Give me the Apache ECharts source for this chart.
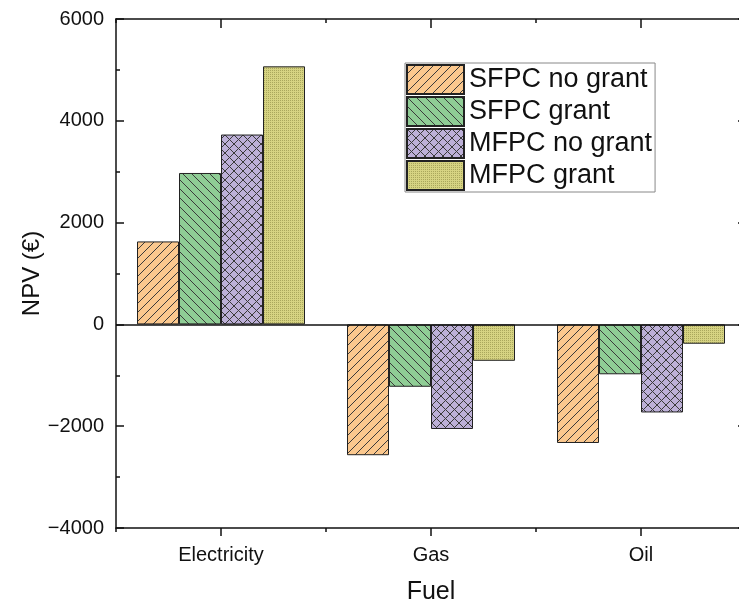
<!DOCTYPE html>
<html>
<head>
<meta charset="utf-8">
<script src="https://cdn.jsdelivr.net/npm/echarts@6/dist/echarts.min.js"></script>
<style>html,body{margin:0;padding:0;background:#fff;}#main{width:739px;height:607px;}</style>
</head>
<body>
<div id="main"></div>
<script>
const categories = ['Electricity', 'Gas', 'Oil'];
const seriesNames = ['SFPC no grant', 'SFPC grant', 'MFPC no grant', 'MFPC grant'];
const sfpcNoGrant = [1630, -2570, -2330];
const sfpcGrant = [2975, -1225, -980];
const mfpcNoGrant = [3730, -2055, -1730];
const mfpcGrant = [5070, -715, -380];

function makePattern(base, kind) {
  const c = document.createElement('canvas');
  const s = kind === 'dots' ? 2 : 9;
  c.width = s; c.height = s;
  const g = c.getContext('2d');
  g.fillStyle = base; g.fillRect(0, 0, s, s);
  g.strokeStyle = '#3a3a3a'; g.lineWidth = 1;
  function fwd() { g.beginPath(); g.moveTo(-1, s + 1); g.lineTo(s + 1, -1); g.stroke();
    g.beginPath(); g.moveTo(-2, 1); g.lineTo(1, -2); g.stroke();
    g.beginPath(); g.moveTo(s - 1, s + 2); g.lineTo(s + 2, s - 1); g.stroke(); }
  function back() { g.beginPath(); g.moveTo(-1, -1); g.lineTo(s + 1, s + 1); g.stroke();
    g.beginPath(); g.moveTo(s - 1, -2); g.lineTo(s + 2, 1); g.stroke();
    g.beginPath(); g.moveTo(-2, s - 1); g.lineTo(1, s + 2); g.stroke(); }
  if (kind === 'fwd') fwd();
  else if (kind === 'back') back();
  else if (kind === 'cross') { fwd(); back(); }
  else if (kind === 'dots') { g.fillStyle = '#aaa75c'; g.fillRect(0, 0, 1, 1); }
  return { image: c, repeat: 'repeat' };
}

const fills = [
  makePattern('#fbc88e', 'fwd'),
  makePattern('#8fcd95', 'back'),
  makePattern('#bdb0d8', 'cross'),
  makePattern('#d6d382', 'dots')
];
const values = [sfpcNoGrant, sfpcGrant, mfpcNoGrant, mfpcGrant];

const font = 'Liberation Sans, Arial, sans-serif';
const chart = echarts.init(document.getElementById('main'), null, { renderer: 'canvas' });

const series = values.map((v, i) => ({
  name: seriesNames[i],
  type: 'bar',
  xAxisIndex: 0,
  yAxisIndex: 0,
  data: v,
  barGap: '0%',
  barCategoryGap: '20%',
  itemStyle: { color: fills[i], borderColor: '#222', borderWidth: 1 },
  emphasis: { disabled: true },
  markLine: i === 0 ? {
    silent: true, symbol: 'none', label: { show: false },
    lineStyle: { color: '#111', width: 1.5, type: 'solid' },
    data: [{ yAxis: 0 }]
  } : undefined
}));

const lineStyle = { color: '#111', width: 1.5 };
const fmt = v => (v < 0 ? '\u2212' + Math.abs(v) : String(v));

chart.setOption({
  animation: false,
  backgroundColor: '#fff',
  grid: { left: 116, width: 630, top: 19, height: 509, containLabel: false, outerBoundsMode: 'none' },
  legend: {
    orient: 'vertical', left: 405, top: 63,
    itemWidth: 57, itemHeight: 29, itemGap: 1,
    padding: [1, 3, 1, 1],
    borderColor: '#888', borderWidth: 1,
    icon: 'rect',
    textStyle: { fontSize: 27, fontFamily: font, color: '#111' },
    data: seriesNames
  },
  xAxis: [
    { type: 'category', data: categories, position: 'bottom',
      name: 'Fuel', nameLocation: 'middle', nameGap: 52, nameMoveOverlap: false,
      nameTextStyle: { fontSize: 25, fontFamily: font, color: '#111' },
      axisLine: { show: true, onZero: false, lineStyle: lineStyle },
      axisTick: { show: true, alignWithLabel: true, inside: false, length: 8, lineStyle: lineStyle },
      axisLabel: { fontSize: 20, fontFamily: font, color: '#111', margin: 17 },
      splitLine: { show: false } },
    { type: 'category', data: categories, position: 'bottom',
      axisLine: { show: false, onZero: false },
      axisTick: { show: true, inside: false, length: 4, lineStyle: lineStyle },
      axisLabel: { show: false }, splitLine: { show: false } },
    { type: 'category', data: categories, position: 'top',
      axisLine: { show: true, onZero: false, lineStyle: lineStyle },
      axisTick: { show: true, alignWithLabel: true, inside: true, length: 9, lineStyle: lineStyle },
      axisLabel: { show: false }, splitLine: { show: false } },
    { type: 'category', data: categories, position: 'top',
      axisLine: { show: false, onZero: false },
      axisTick: { show: true, inside: true, length: 4, lineStyle: lineStyle },
      axisLabel: { show: false }, splitLine: { show: false } }
  ],
  yAxis: [
    { type: 'value', min: -4000, max: 6000, interval: 2000, position: 'left',
      name: 'NPV (€)', nameLocation: 'middle', nameGap: 72, nameRotate: 90, nameMoveOverlap: false,
      nameTextStyle: { fontSize: 24, fontFamily: font, color: '#111' },
      axisLine: { show: true, onZero: false, lineStyle: lineStyle },
      axisTick: { show: true, inside: true, length: 8, lineStyle: lineStyle },
      minorTick: { show: true, splitNumber: 2, length: 4, lineStyle: { color: '#111', width: 1.5 } },
      axisLabel: { fontSize: 20, fontFamily: font, color: '#111', margin: 12, formatter: fmt },
      splitLine: { show: false } },
    { type: 'value', min: -4000, max: 6000, interval: 2000, position: 'right',
      axisLine: { show: true, onZero: false, lineStyle: lineStyle },
      axisTick: { show: true, inside: true, length: 8, lineStyle: lineStyle },
      minorTick: { show: true, splitNumber: 2, length: 4, lineStyle: { color: '#111', width: 1.5 } },
      axisLabel: { show: false },
      splitLine: { show: false } }
  ],
  series: series
});
</script>
</body>
</html>
